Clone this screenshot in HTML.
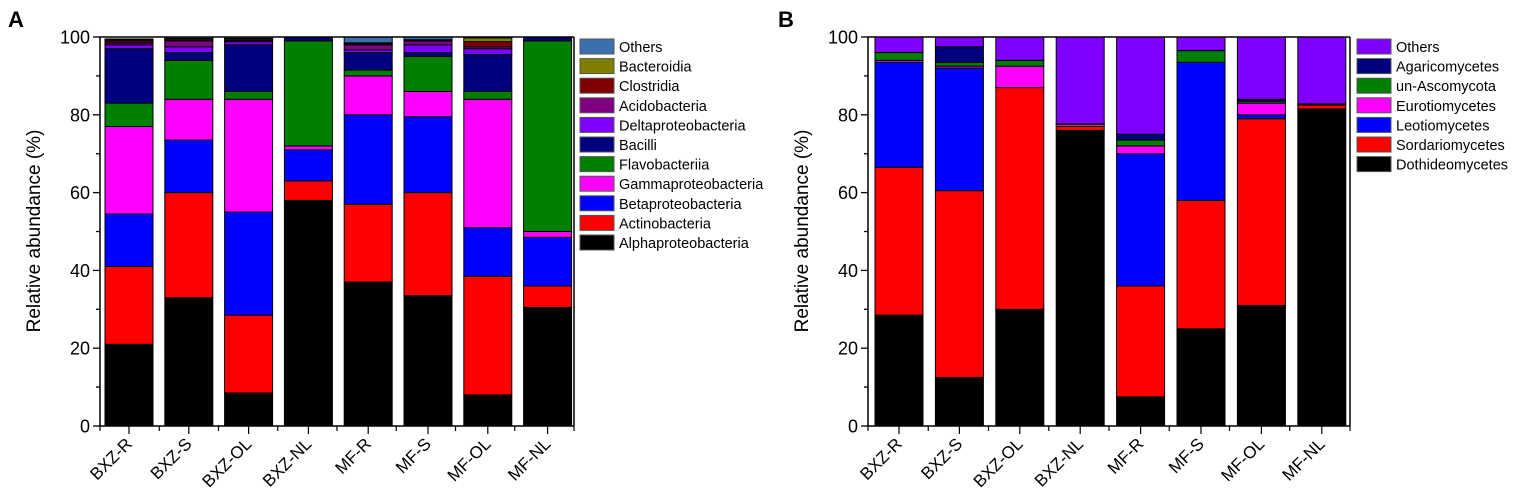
<!DOCTYPE html>
<html><head><meta charset="utf-8"><style>
html,body{margin:0;padding:0;background:#fff;}
svg{display:block;font-family:"Liberation Sans",Arial,sans-serif;}
</style></head><body>
<svg id="s" width="1535" height="504" xmlns="http://www.w3.org/2000/svg"></svg>
<script>
const s=document.getElementById('s');let h='';
const Y0=426,Y1=37,k=(Y0-Y1)/100;
const cats=['BXZ-R','BXZ-S','BXZ-OL','BXZ-NL','MF-R','MF-S','MF-OL','MF-NL'];
function panel(ax,right,bx,pitch,bw,colors,names,data,legX,letter){
  // bars
  data.forEach((cum,i)=>{
    let x=bx+i*pitch,prev=0;
    cum.forEach((c,j)=>{ if(c>prev){
      const yt=Y0-c*k,yb=Y0-prev*k;
      h+=`<rect x="${x}" y="${yt}" width="${bw}" height="${yb-yt}" fill="${colors[j]}" stroke="#000" stroke-width="1"/>`;}
      prev=Math.max(prev,c);});
  });
  // frame
  h+=`<line x1="${ax}" y1="${Y1}" x2="${right}" y2="${Y1}" stroke="#000" stroke-width="1.5"/>`;
  h+=`<line x1="${right}" y1="${Y1}" x2="${right}" y2="${Y0}" stroke="#000" stroke-width="1.5"/>`;
  h+=`<line x1="${ax}" y1="${Y1}" x2="${ax}" y2="${Y0}" stroke="#000" stroke-width="1.5"/>`;
  h+=`<line x1="${ax}" y1="${Y0}" x2="${right}" y2="${Y0}" stroke="#000" stroke-width="1.5"/>`;
  for(let v=0;v<=100;v+=10){const y=Y0-v*k;const L=v%20==0?7:4;
    h+=`<line x1="${ax-L}" y1="${y}" x2="${ax}" y2="${y}" stroke="#000" stroke-width="1.3"/>`;
    if(v%20==0)h+=`<text x="${ax-10}" y="${y+6.5}" font-size="18" text-anchor="end">${v}</text>`;}
  h+=`<text transform="translate(${ax-60},231) rotate(-90)" font-size="19" text-anchor="middle">Relative abundance (%)</text>`;
  for(let i=0;i<=8;i++){const x=ax+i*(right-ax)/8;h+=`<line x1="${x}" y1="${Y0}" x2="${x}" y2="${Y0+5}" stroke="#000" stroke-width="1.2"/>`;}
  cats.forEach((c,i)=>{const x=bx+i*pitch+bw/2;
    h+=`<line x1="${x}" y1="${Y0}" x2="${x}" y2="${Y0+8}" stroke="#000" stroke-width="1.2"/>`;
    h+=`<text transform="translate(${x+4},${Y0+19}) rotate(-45)" font-size="17" text-anchor="end">${c}</text>`;});
  // legend (top to bottom reversed)
  const n=names.length;
  for(let j=n-1,r=0;j>=0;j--,r++){const y=39+r*19.6;
    h+=`<rect x="${legX}" y="${y}" width="34" height="15" fill="${colors[j]}" stroke="#555" stroke-width="1"/>`;
    h+=`<text x="${legX+39}" y="${y+13}" font-size="14.5">${names[j]}</text>`;}
  h+=`<text x="${letter}" y="27" font-size="22" font-weight="bold">${letter<400?'A':'B'}</text>`;
}
const cA=['#000000','#ff0000','#0000ff','#ff00ff','#008000','#000080','#8000ff','#800080','#800000','#808000','#3a6fb0'];
const nA=['Alphaproteobacteria','Actinobacteria','Betaproteobacteria','Gammaproteobacteria','Flavobacteriia','Bacilli','Deltaproteobacteria','Acidobacteria','Clostridia','Bacteroidia','Others'];
const dA=[
[21,41,54.5,77,83,97,98,98.5,99,99.3,99.5],
[33,60,73.5,84,94,96,97.5,99,99.3,99.6,100],
[8.5,28.5,55,84,86,98,98.8,99,99.3,99.6,100],
[58,63,71,72,99,99.9,99.9,99.9,99.9,99.9,100],
[37,57,80,90,91.5,96,96.7,98,98.3,98.5,100],
[33.5,60,79.5,86,95,96,98,99,99.2,99.3,100],
[8,38.5,51,84,86,95.5,97,97.5,98.8,99.8,100],
[30.5,36,48.5,50,99,99.9,99.9,99.9,99.9,99.9,100]];
const cB=['#000000','#ff0000','#0000ff','#ff00ff','#008000','#000080','#8000ff'];
const nB=['Dothideomycetes','Sordariomycetes','Leotiomycetes','Eurotiomycetes','un-Ascomycota','Agaricomycetes','Others'];
const dB=[
[28.5,66.5,93.5,94,96,96,100],
[12.5,60.5,92,92.5,93.5,97.5,100],
[30,87,87,92.5,94,94,100],
[76,77,77,77.5,77.5,77.7,100],
[7.5,36,70,72,73.5,75,100],
[25,58,93.5,93.5,96.5,96.5,100],
[31,79,80,83,83.5,84,100],
[81.5,82.5,82.5,82.5,82.5,82.8,100]];
panel(100,574,105,59.8,48,cA,nA,dA,580,8);
panel(868,1350,875,60.4,48,cB,nB,dB,1357,778);
s.innerHTML=h;
</script>
</body></html>
